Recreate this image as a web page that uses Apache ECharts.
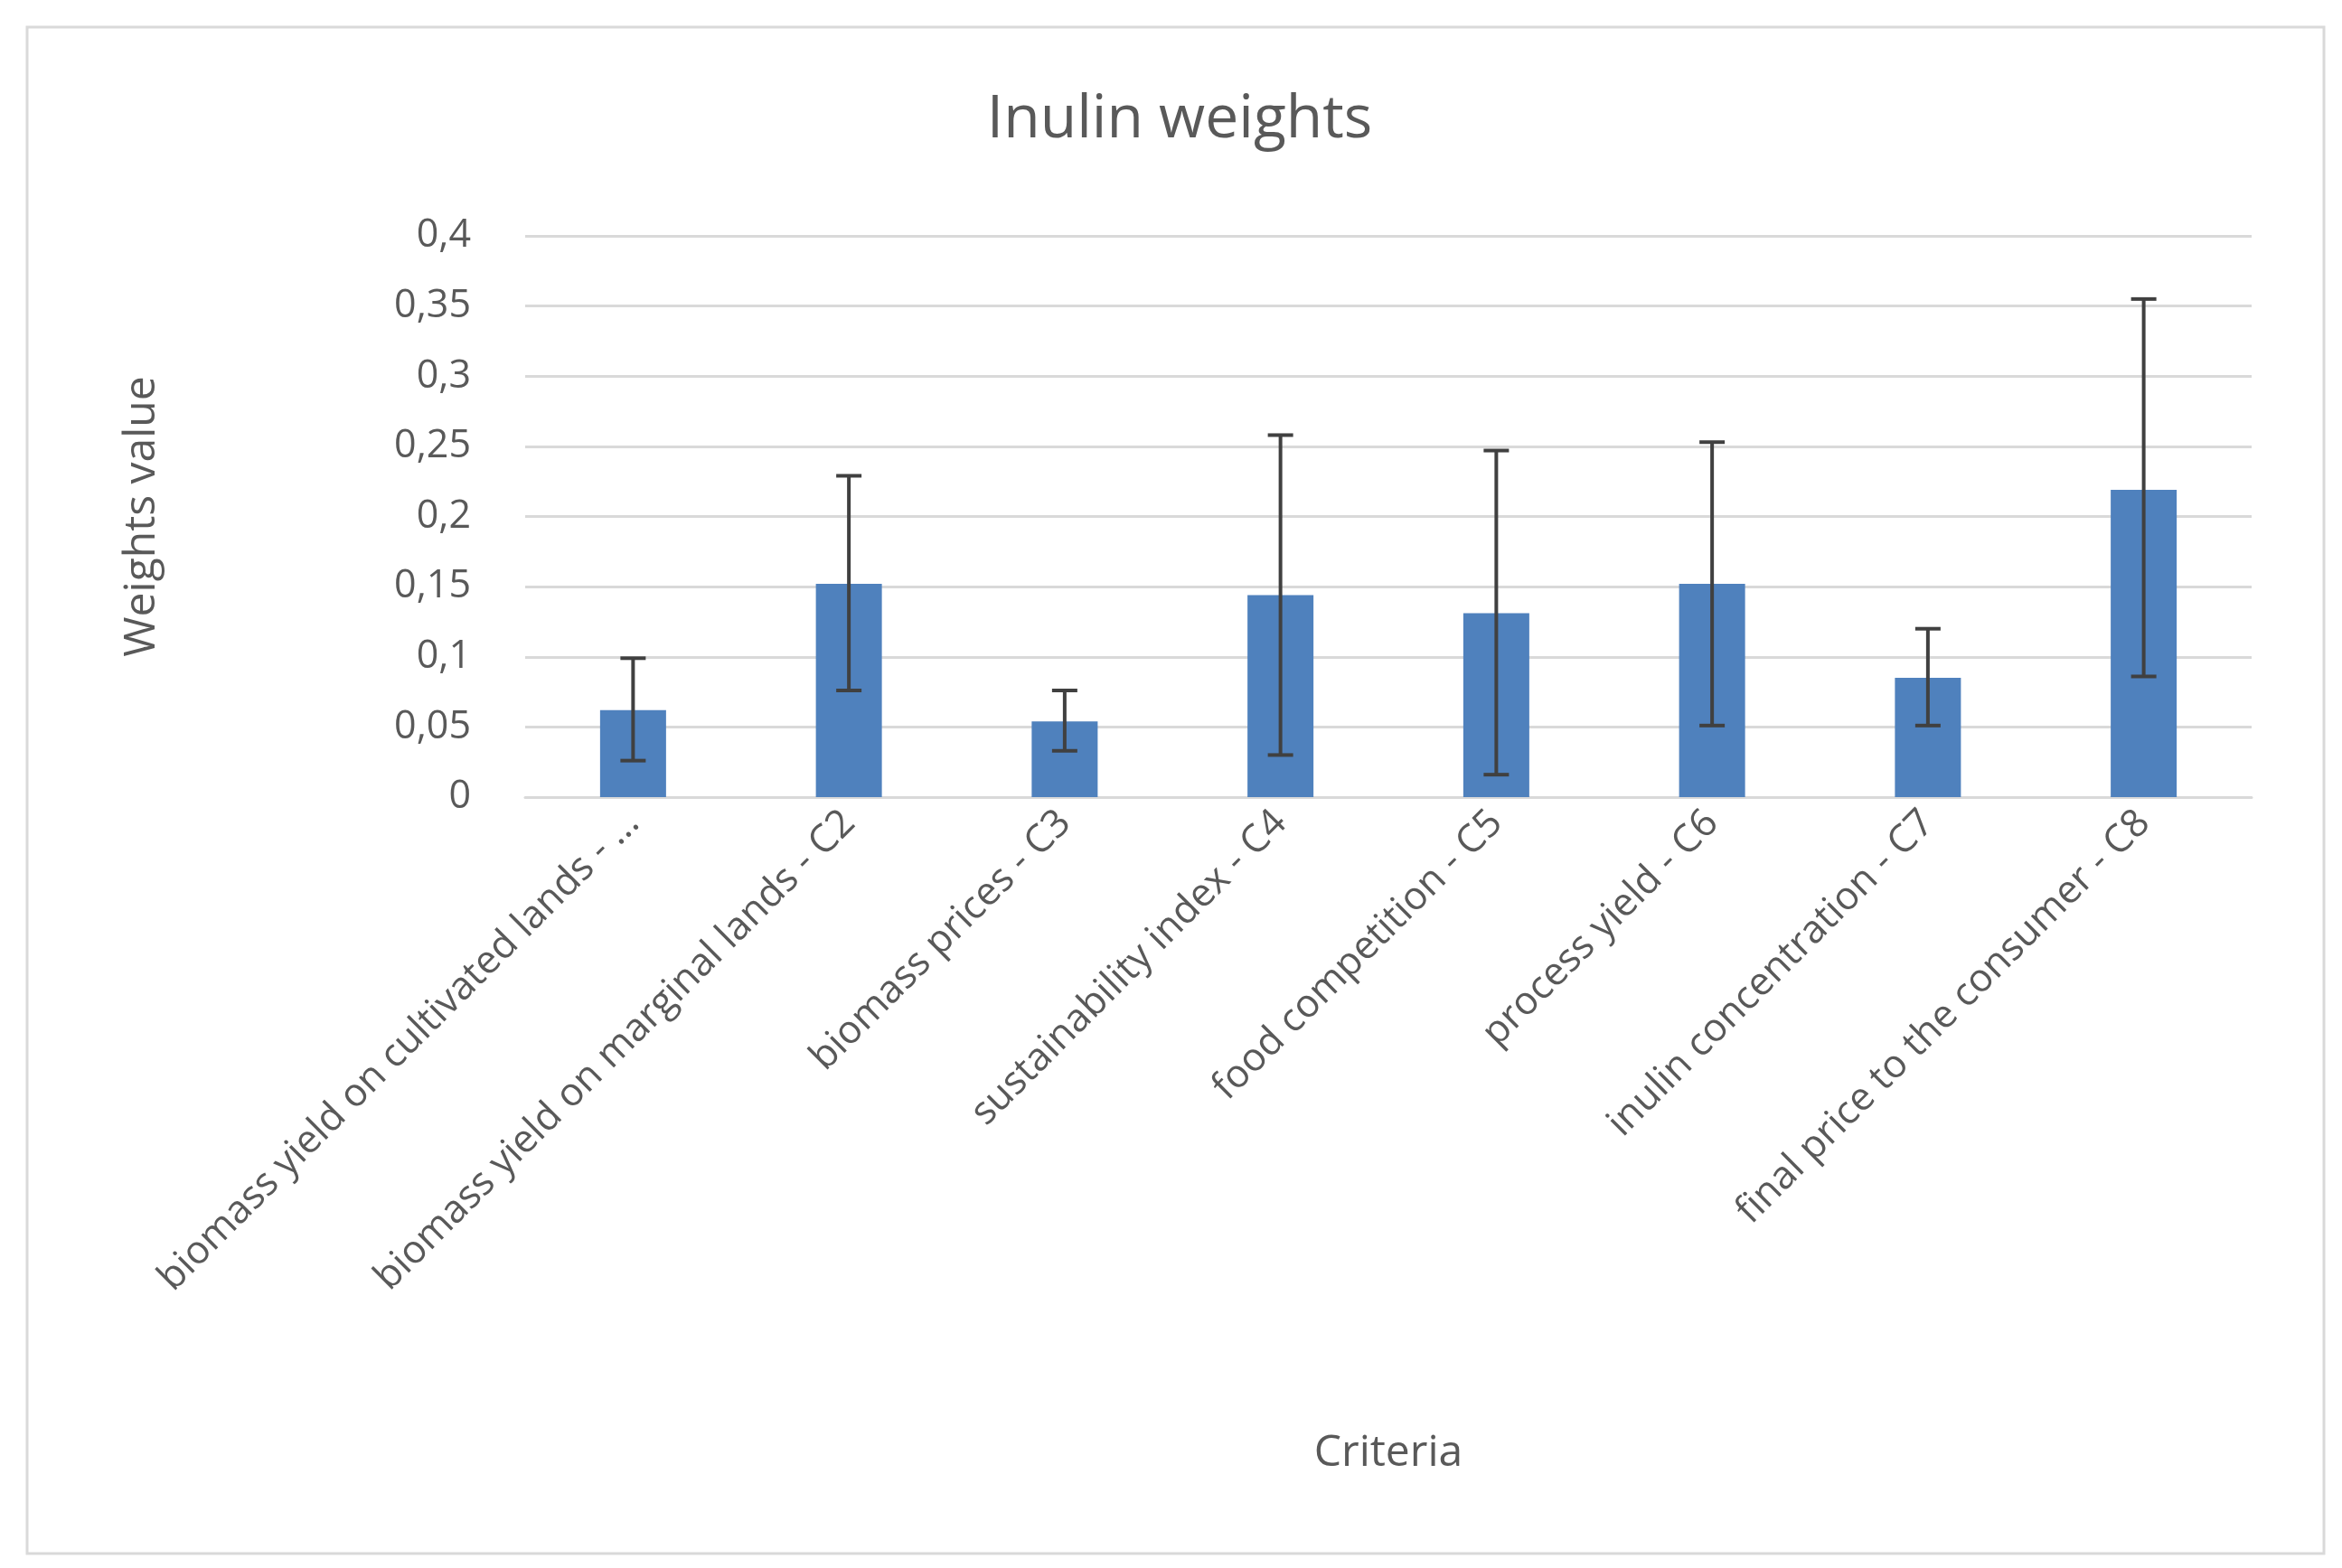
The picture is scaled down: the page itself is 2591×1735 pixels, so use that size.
<!DOCTYPE html>
<html><head><meta charset="utf-8">
<script src="https://cdn.jsdelivr.net/npm/echarts@6/dist/echarts.min.js"></script>
<style>html,body{margin:0;padding:0;background:#fff}#c{width:2591px;height:1735px}</style>
</head><body><div id="c"></div>
<script>
const categories = ["biomass yield on cultivated lands - ...","biomass yield on marginal lands - C2","biomass prices - C3","sustainability index - C4","food competition - C5","process yield - C6","inulin concentration - C7","final price to the consumer - C8"];
const weights = [0.062,0.152,0.054,0.144,0.131,0.152,0.085,0.219];
const errLow = [0.026,0.076,0.033,0.030,0.016,0.051,0.051,0.086];
const errHigh = [0.099,0.229,0.076,0.258,0.247,0.253,0.120,0.355];
const yTicks = [0,0.05,0.1,0.15,0.2,0.25,0.3,0.35,0.4];
const font = "Open Sans";
const chart = echarts.init(document.getElementById('c'));
chart.setOption({
  backgroundColor:'#fff',
  graphic:[
    {type:'rect',shape:{x:30,y:30,width:2541,height:1689},style:{fill:'none',stroke:'#d9d9d9',lineWidth:3}},
    {type:'text',x:1536,y:1608,style:{text:'Criteria',fontFamily:font,fontSize:48,fill:'#595959',textAlign:'center',textVerticalAlign:'middle'}}
  ],
  title:{text:'Inulin weights',left:1300,top:95,textAlign:'center',textStyle:{fontFamily:font,fontSize:66,fontWeight:'normal',color:'#595959'}},
  grid:{left:581,right:100,top:261,bottom:853,outerBoundsMode:'none',containLabel:false},
  xAxis:{type:'category',data:categories,
    axisLine:{lineStyle:{color:'#d9d9d9',width:3}},axisTick:{show:false},
    axisLabel:{rotate:45,interval:0,fontFamily:font,fontSize:43,color:'#595959',margin:22}},
  yAxis:{type:'value',min:0,max:0.4,interval:0.05,name:'Weights value',nameLocation:'middle',nameGap:400,
    nameTextStyle:{fontFamily:font,fontSize:48,color:'#595959'},
    axisLine:{show:false},axisTick:{show:false},
    splitLine:{lineStyle:{color:'#d9d9d9',width:3}},
    axisLabel:{fontFamily:font,fontSize:43,color:'#595959',margin:60,formatter:v=>{const i=yTicks.findIndex(t=>Math.abs(t-v)<1e-9);return String(i>=0?yTicks[i]:v).replace('.',',');}}},
  series:[
    {type:'bar',data:weights,barWidth:73,itemStyle:{color:'#4f81bd'}},
    {type:'custom',data:categories.map((c,i)=>[i,errLow[i],errHigh[i]]),z:10,
     renderItem:(p,api)=>{const lo=api.coord([api.value(0),api.value(1)]);const hi=api.coord([api.value(0),api.value(2)]);const w=14;
       const st={stroke:'#404040',lineWidth:4};
       return {type:'group',children:[
         {type:'line',shape:{x1:lo[0],y1:lo[1],x2:hi[0],y2:hi[1]},style:st},
         {type:'line',shape:{x1:lo[0]-w,y1:lo[1],x2:lo[0]+w,y2:lo[1]},style:st},
         {type:'line',shape:{x1:hi[0]-w,y1:hi[1],x2:hi[0]+w,y2:hi[1]},style:st}]};}}
  ]
});
</script></body></html>
